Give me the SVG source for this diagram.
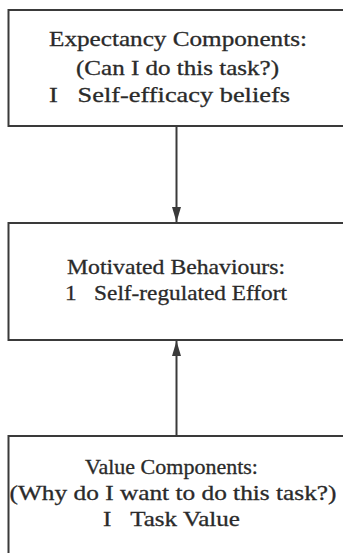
<svg xmlns="http://www.w3.org/2000/svg" width="343" height="553" viewBox="0 0 343 553">
<style>
.box{fill:#fff;stroke:#3a3a3a;stroke-width:2}
.t{font-family:"Liberation Serif","Times New Roman",serif;font-size:21px;fill:#2a2a2a;stroke:#2a2a2a;stroke-width:0.3;text-anchor:middle}
.c{stroke:#3a3a3a;stroke-width:2;fill:none}
</style>
<defs>
<marker id="ah" markerWidth="16" markerHeight="9" refX="15" refY="4.5" orient="auto" markerUnits="userSpaceOnUse" viewBox="0 0 16 9">
<path d="M0,0 L15,4.5 L0,9 Z" fill="#3a3a3a"/>
</marker>
</defs>
<rect width="343" height="553" fill="#fff"/>
<g id="expectancy">
<rect class="box" x="8.5" y="10" width="340" height="116"/>
<text class="t" x="178" y="46" textLength="258" lengthAdjust="spacingAndGlyphs">Expectancy Components:</text>
<text class="t" x="177.5" y="75" textLength="203" lengthAdjust="spacingAndGlyphs">(Can I do this task?)</text>
<text class="t" x="169.5" y="102" textLength="241" lengthAdjust="spacingAndGlyphs">I&#160;&#160;&#160;Self-efficacy beliefs</text>
</g>
<g id="motivated">
<rect class="box" x="8.5" y="223" width="340" height="117"/>
<text class="t" x="176" y="274" textLength="218" lengthAdjust="spacingAndGlyphs">Motivated Behaviours:</text>
<text class="t" x="176" y="300" textLength="222" lengthAdjust="spacingAndGlyphs">1&#160;&#160;&#160;Self-regulated Effort</text>
</g>
<g id="value">
<rect class="box" x="8.5" y="436" width="340" height="130"/>
<text class="t" x="171.5" y="474" textLength="173" lengthAdjust="spacingAndGlyphs">Value Components:</text>
<text class="t" x="173" y="500" textLength="327" lengthAdjust="spacingAndGlyphs">(Why do I want to do this task?)</text>
<text class="t" x="171.5" y="526" textLength="137" lengthAdjust="spacingAndGlyphs">I&#160;&#160;&#160;Task Value</text>
</g>
<g id="connectors">
<line class="c" x1="176.5" y1="127" x2="176.5" y2="222" marker-end="url(#ah)"/>
<line class="c" x1="176.5" y1="435" x2="176.5" y2="341" marker-end="url(#ah)"/>
</g>
</svg>
